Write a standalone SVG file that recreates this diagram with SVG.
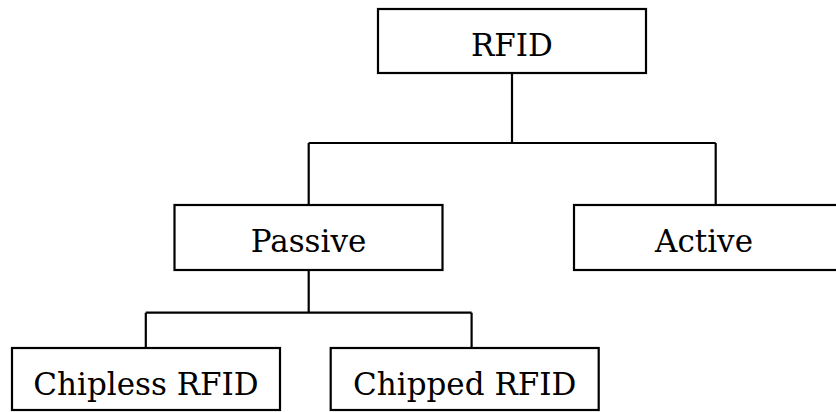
<svg xmlns="http://www.w3.org/2000/svg" width="836" height="412" viewBox="0 0 836 412">
<style>
.box{fill:#fff;stroke:#000;stroke-width:2.2}
.lbl{font-family:'DejaVu Serif','Liberation Serif',serif;font-size:31px;fill:#000;text-anchor:middle}
.conn path{fill:none;stroke:#000;stroke-width:2.2}
</style>
<rect width="836" height="412" fill="#fff"/>
<g class="conn" id="connectors">
<path d="M512 73 V143"/>
<path d="M308.7 143 H715.7"/>
<path d="M308.7 143 V205"/>
<path d="M715.7 143 V205"/>
<path d="M308.7 270 V312.7"/>
<path d="M145.8 312.7 H471.6"/>
<path d="M145.8 312.7 V348"/>
<path d="M471.6 312.7 V348"/>
</g>
<g id="rfid"><rect class="box" x="378" y="9" width="268" height="64"/><text class="lbl" x="512" y="55.5">RFID</text></g>
<g id="passive"><rect class="box" x="174.5" y="205" width="268" height="65"/><text class="lbl" x="308.5" y="252">Passive</text></g>
<g id="active"><rect class="box" x="574" y="205" width="268" height="65"/><text class="lbl" x="704" y="252">Active</text></g>
<g id="chipless"><rect class="box" x="12" y="348" width="268" height="62"/><text class="lbl" x="146" y="395">Chipless RFID</text></g>
<g id="chipped"><rect class="box" x="330.7" y="348" width="268" height="62"/><text class="lbl" x="464.7" y="395">Chipped RFID</text></g>
</svg>
